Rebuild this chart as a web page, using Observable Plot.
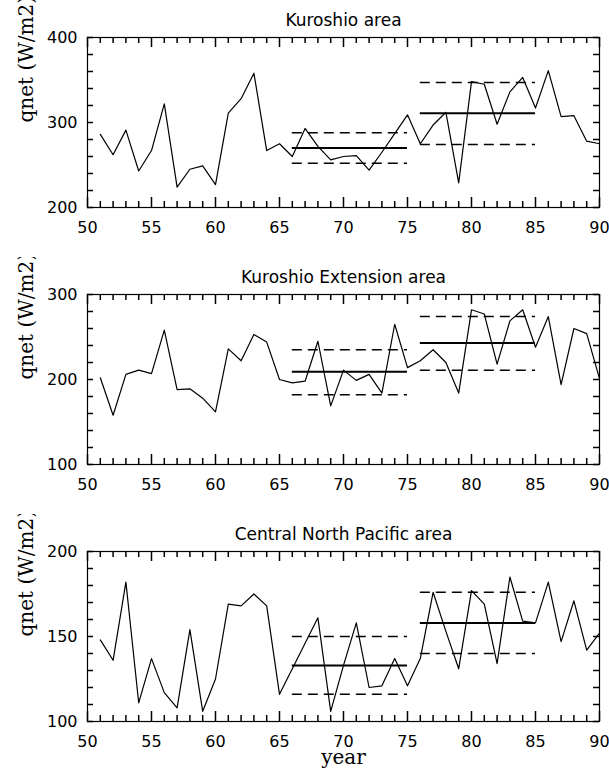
<!DOCTYPE html>
<html><head><meta charset="utf-8">
<script src="https://cdn.jsdelivr.net/npm/d3@7"></script>
<script src="https://cdn.jsdelivr.net/npm/@observablehq/plot@0.6"></script>
<style>
html,body{margin:0;background:#fff;overflow:hidden;}
#chart svg{display:block;}
</style></head><body><div id="chart"></div>
<script>
// ---- data ----
const years = [51,52,53,54,55,56,57,58,59,60,61,62,63,64,65,66,67,68,69,70,
               71,72,73,74,75,76,77,78,79,80,81,82,83,84,85,86,87,88,89,90];
const kuroshio = [286,262,291,243,267,322,224,245,249,227,311,328,358,267,275,260,293,272,256,260,
                  261,244,265,287,309,275,297,312,229,348,345,298,336,353,317,361,307,308,278,275];
const kuroshioExt = [202,158,206,211,207,258,188,189,178,162,236,222,253,244,200,196,198,245,169,211,
                     199,206,184,265,214,222,235,220,184,282,277,218,269,282,238,274,194,260,254,201];
const centralNP = [148,136,182,111,137,117,108,154,106,125,169,168,175,168,116,131,146,161,106,133,
                   158,120,121,137,121,137,176,153,131,177,169,134,185,159,158,182,147,171,142,152];

const periodStart = [66, 76];
const periodEnd = [75, 85];
const kuroshioMean = [270, 311], kuroshioUpper = [288, 347], kuroshioLower = [252, 274];
const kuroshioExtMean = [209, 243], kuroshioExtUpper = [235, 274], kuroshioExtLower = [182, 211];
const centralNPMean = [133, 158], centralNPUpper = [150, 176], centralNPLower = [116, 140];

const panelTitles = ["Kuroshio area", "Kuroshio Extension area", "Central North Pacific area"];
const yDomains = [[200, 400], [100, 300], [100, 200]];
const yTickLabels = [[200, 300, 400], [100, 200, 300], [100, 150, 200]];
const yMinorSteps = [20, 20, 10];
const xTickLabels = [50, 55, 60, 65, 70, 75, 80, 85, 90];
const yLabel = "qnet (W/m2)";
const xLabel = "year";

const seriesList = [kuroshio, kuroshioExt, centralNP];
const meanList = [kuroshioMean, kuroshioExtMean, centralNPMean];
const upperList = [kuroshioUpper, kuroshioExtUpper, centralNPUpper];
const lowerList = [kuroshioLower, kuroshioExtLower, centralNPLower];

const heights = [257, 257, 256];
const frameH = 170, frameW = 512;
const xMinor = d3.range(50, 91).filter(d => d % 5 !== 0);
const serifFont = "'DejaVu Serif', 'Liberation Serif', serif";

function panel(i) {
  const series = years.map((yr, j) => ({year: yr, value: seriesList[i][j]}));
  const periods = periodStart.map((s, k) => ({x1: s, x2: periodEnd[k], mean: meanList[i][k], hi: upperList[i][k], lo: lowerList[i][k]}));
  const [y0, y1] = yDomains[i];
  const yMinor = d3.range(y0, y1 + 0.001, yMinorSteps[i]);
  const tick = {stroke: "#000", strokeWidth: 1.5};
  return Plot.plot({
    width: 609, height: heights[i],
    marginTop: 37, marginBottom: heights[i] - 37 - frameH, marginLeft: 87, marginRight: 10,
    x: {domain: [50, 90], axis: null},
    y: {domain: yDomains[i], axis: null},
    style: {fontFamily: "DejaVu Sans", fontSize: "16px", color: "#000", background: "#fff"},
    marks: [
      Plot.tickX(xTickLabels, {x: d => d, insetTop: frameH - 10, ...tick}),
      Plot.tickX(xMinor, {x: d => d, insetTop: frameH - 6, ...tick}),
      Plot.tickX(xTickLabels, {x: d => d, insetBottom: frameH - 10, ...tick}),
      Plot.tickX(xMinor, {x: d => d, insetBottom: frameH - 6, ...tick}),
      Plot.tickY(yMinor, {y: d => d, insetRight: frameW - 6, ...tick}),
      Plot.tickY(yMinor, {y: d => d, insetLeft: frameW - 6, ...tick}),
      Plot.frame({stroke: "#000", strokeWidth: 1.2}),
      Plot.line(series, {x: "year", y: "value", stroke: "#000", strokeWidth: 1.2}),
      Plot.ruleY(periods, {x1: "x1", x2: "x2", y: "mean", stroke: "#000", strokeWidth: 2}),
      Plot.ruleY(periods, {x1: "x1", x2: "x2", y: "hi", stroke: "#000", strokeWidth: 1.5, strokeDasharray: "10,6"}),
      Plot.ruleY(periods, {x1: "x1", x2: "x2", y: "lo", stroke: "#000", strokeWidth: 1.5, strokeDasharray: "10,6"}),
      Plot.text(xTickLabels, {x: d => d, text: d => String(d), frameAnchor: "bottom", dy: 25, lineAnchor: "bottom", fontSize: 16, fill: "#000"}),
      Plot.text(yTickLabels[i], {y: d => d, text: d => String(d), frameAnchor: "left", dx: -10, textAnchor: "end", lineAnchor: "middle", fontSize: 16, fill: "#000"}),
      Plot.text([panelTitles[i]], {text: d => d, frameAnchor: "top", dy: -12, lineAnchor: "bottom", fontSize: 17, fill: "#000"}),
      Plot.text([yLabel], {text: d => d, frameAnchor: "left", dx: -61, rotate: -90, lineAnchor: "middle", fontFamily: serifFont, fontSize: 20, fill: "#000"}),
      i === 2 ? Plot.text([xLabel], {text: d => d, frameAnchor: "bottom", dy: 42, lineAnchor: "bottom", fontFamily: serifFont, fontSize: 20, fill: "#000"}) : null
    ]
  });
}

const root = document.getElementById("chart");
for (let i = 0; i < 3; i++) root.appendChild(panel(i));
</script>
</body></html>
